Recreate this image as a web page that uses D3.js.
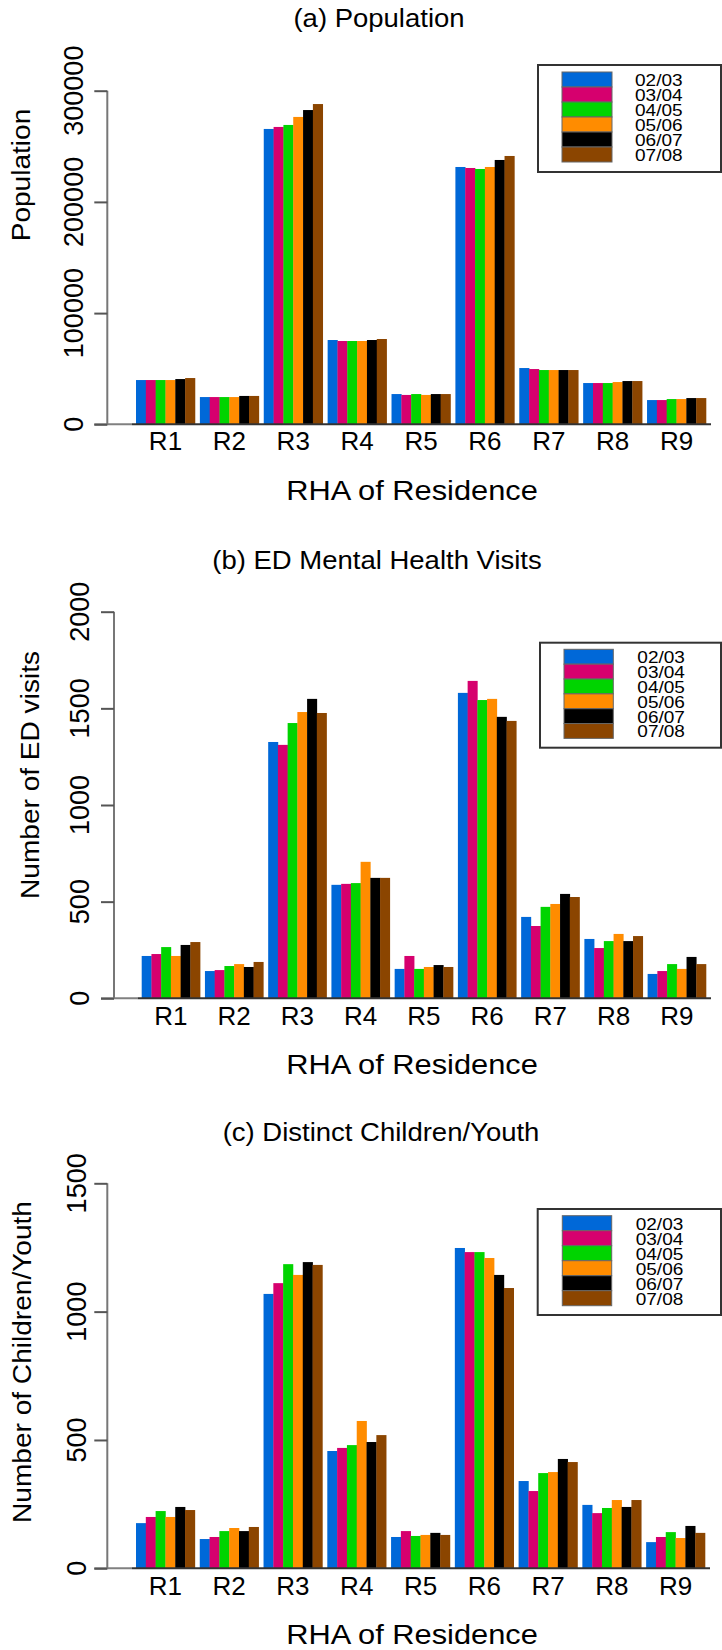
<!DOCTYPE html>
<html>
<head>
<meta charset="utf-8">
<script src="https://cdn.jsdelivr.net/npm/d3@7"></script>
<style>
  html, body { margin: 0; padding: 0; background: #fff; }
  svg { display: block; }
  text { font-family: "Liberation Sans", Arial, Helvetica, sans-serif; fill: #000; }
</style>
</head>
<body>
<svg id="chart" width="722" height="1650"></svg>
<script>
// ---------------- DATA ----------------
const regions = ["R1", "R2", "R3", "R4", "R5", "R6", "R7", "R8", "R9"];
const years = ["02/03", "03/04", "04/05", "05/06", "06/07", "07/08"];
const yearColors = ["#0068d8", "#d6006e", "#00d400", "#ff8c00", "#000000", "#8b4500"];

// rows: regions R1..R9, columns: years 02/03..07/08
const population = [
  [39800, 39800, 39800, 39800, 40700, 41600],
  [24500, 24500, 24500, 24500, 25500, 25500],
  [265600, 267400, 269200, 276400, 282600, 288000],
  [75800, 74900, 74900, 74900, 75800, 76700],
  [27200, 26400, 27200, 26400, 27200, 27200],
  [231400, 230500, 229600, 231400, 237700, 241300],
  [50600, 49700, 48800, 48800, 48800, 48800],
  [37100, 37100, 37100, 38000, 38900, 38900],
  [21800, 21800, 22700, 22700, 23600, 23600]
];
const edVisits = [
  [219, 229, 265, 219, 276, 291],
  [141, 146, 167, 177, 162, 188],
  [1326, 1311, 1424, 1481, 1549, 1476],
  [587, 592, 596, 706, 623, 623],
  [152, 219, 152, 162, 172, 162],
  [1580, 1642, 1543, 1549, 1456, 1435],
  [421, 374, 473, 488, 540, 524],
  [307, 260, 296, 333, 296, 322],
  [126, 141, 177, 152, 214, 177]
];
const children = [
  [176, 200, 223, 200, 239, 227],
  [114, 122, 145, 157, 145, 161],
  [1069, 1111, 1185, 1143, 1193, 1182],
  [457, 469, 480, 574, 492, 519],
  [122, 145, 126, 130, 138, 130],
  [1248, 1232, 1232, 1209, 1143, 1092],
  [340, 301, 371, 375, 426, 414],
  [247, 215, 235, 266, 239, 266],
  [102, 122, 141, 118, 165, 138]
];
const popTicks = [0, 100000, 200000, 300000];
const edTicks = [0, 500, 1000, 1500, 2000];
const childTicks = [0, 500, 1000, 1500];
const titles = ["(a) Population", "(b) ED Mental Health Visits", "(c) Distinct Children/Youth"];
const yTitles = ["Population", "Number of ED visits", "Number of Children/Youth"];
const xTitle = "RHA of Residence";

// ---------------- LAYOUT ----------------
const panels = [
  { data: population, ticks: popTicks, title: titles[0], ytitle: yTitles[0],
    axisX: 107.3, y0: 424.3, yTop: 90.7, barL: 136, barR: 706,
    tickLabX: 83, titleX: 379, titleY: 27, xlabY: 450, xtitleY: 500,
    ytitleX: 30, ytitleY: 175,
    leg: { x0: 538, y0: 65, x1: 721, y1: 172, sx0: 562, sx1: 612, sy0: 72, row: 15, tx: 635 } },
  { data: edVisits, ticks: edTicks, title: titles[1], ytitle: yTitles[1],
    axisX: 114, y0: 998.3, yTop: 611.7, barL: 141.7, barR: 706,
    tickLabX: 89, titleX: 377, titleY: 569, xlabY: 1025, xtitleY: 1074,
    ytitleX: 39, ytitleY: 775,
    leg: { x0: 540, y0: 642.7, x1: 721, y1: 747.7, sx0: 564, sx1: 613.3, sy0: 649.3, row: 14.85, tx: 637.3 } },
  { data: children, ticks: childTicks, title: titles[2], ytitle: yTitles[2],
    axisX: 107.3, y0: 1568.3, yTop: 1183.3, barL: 136, barR: 705,
    tickLabX: 86, titleX: 381, titleY: 1141, xlabY: 1595, xtitleY: 1644,
    ytitleX: 31, ytitleY: 1362,
    leg: { x0: 537.7, y0: 1209, x1: 721, y1: 1315, sx0: 562.3, sx1: 611.7, sy0: 1215.7, row: 15, tx: 635.7 } }
];

const svg = d3.select("#chart");

function txt(g, s, x, y, F, sx, rot, anchor) {
  g.append("text")
    .attr("transform", `translate(${x},${y})` + (rot ? " rotate(-90)" : "") + ` scale(${sx},1)`)
    .attr("text-anchor", anchor)
    .style("font-size", F + "px")
    .text(s);
}

panels.forEach(p => {
  const g = svg.append("g");
  const maxTick = p.ticks[p.ticks.length - 1];
  const y = d3.scaleLinear().domain([0, maxTick]).range([p.y0, p.yTop]);
  const x0 = d3.scaleBand().domain(regions).range([p.barL, p.barR])
    .paddingInner(0.5 / 6.5).paddingOuter(0);
  const x1 = d3.scaleBand().domain(years).range([0, x0.bandwidth()]).padding(0);
  const color = d3.scaleOrdinal().domain(years).range(yearColors);

  // bars
  regions.forEach((r, i) => {
    g.selectAll(null).data(p.data[i]).enter().append("rect")
      .attr("x", (d, j) => x0(r) + x1(years[j]))
      .attr("width", x1.bandwidth() + 0.3)
      .attr("y", d => y(d))
      .attr("height", d => p.y0 - y(d))
      .attr("fill", (d, j) => color(years[j]));
  });

  // baseline
  g.append("line").attr("x1", p.axisX - 13).attr("x2", p.barL - 4)
    .attr("y1", p.y0).attr("y2", p.y0).attr("stroke", "#808080").attr("stroke-width", 2);
  g.append("line").attr("x1", p.barL - 4).attr("x2", p.barR + 5)
    .attr("y1", p.y0).attr("y2", p.y0).attr("stroke", "#333").attr("stroke-width", 2);

  // y axis
  const yAxis = d3.axisLeft(y).tickValues(p.ticks).tickSize(13).tickFormat("").tickSizeOuter(0);
  const ag = g.append("g").attr("transform", `translate(${p.axisX},0)`).call(yAxis);
  ag.select(".domain").attr("stroke", "#777").attr("stroke-width", 2)
    .attr("d", `M0,${p.y0}V${p.yTop}`);
  ag.selectAll(".tick line").attr("stroke", "#555").attr("stroke-width", 2);
  p.ticks.forEach(t => txt(g, String(t), p.tickLabX, y(t), 28.5, 0.95, true, "middle"));

  // x labels
  regions.forEach(r => txt(g, r, x0(r) + x0.bandwidth() / 2, p.xlabY, 26, 1.0, false, "middle"));

  // titles
  txt(g, p.title, p.titleX, p.titleY, 25, 1.1, false, "middle");
  txt(g, xTitle, 412, p.xtitleY, 28, 1.1, false, "middle");
  txt(g, p.ytitle, p.ytitleX, p.ytitleY, 26, 1.08, true, "middle");

  // legend
  const L = p.leg;
  g.append("rect").attr("x", L.x0).attr("y", L.y0).attr("width", L.x1 - L.x0).attr("height", L.y1 - L.y0)
    .attr("fill", "#fff").attr("stroke", "#333").attr("stroke-width", 2);
  years.forEach((yr, j) => {
    g.append("rect").attr("x", L.sx0).attr("y", L.sy0 + j * L.row)
      .attr("width", L.sx1 - L.sx0).attr("height", L.row)
      .attr("fill", color(yr)).attr("stroke", "#666").attr("stroke-width", 1);
    txt(g, yr, L.tx, L.sy0 + (j + 1) * L.row - 1, 17, 1.12, false, "start");
  });
});
</script>
</body>
</html>
